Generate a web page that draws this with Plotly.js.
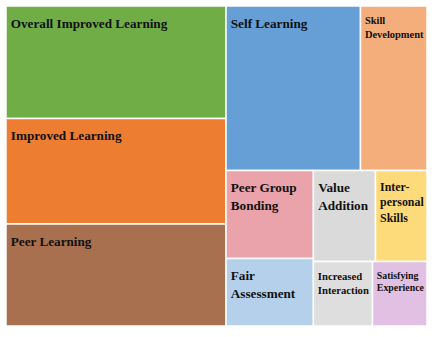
<!DOCTYPE html>
<html>
<head>
<meta charset="utf-8">
<script src="https://cdn.plot.ly/plotly-3.0.1.min.js"></script>
<style>html,body{margin:0;padding:0;background:#fff;}#chart{width:446px;height:337px;}</style>
</head>
<body>
<div id="chart"></div>
<script>
// Share of responses (%) per perceived benefit
const labels = [
  "Overall Improved Learning",
  "Improved Learning",
  "Peer Learning",
  "Self Learning",
  "Skill<br>Development",
  "Peer Group<br>Bonding",
  "Fair<br>Assessment",
  "Value<br>Addition",
  "Inter-<br>personal<br>Skills",
  "Increased<br>Interaction",
  "Satisfying<br>Experience"
];
const values = [18.37, 17.23, 16.66, 16.42, 8.12, 5.71, 4.38, 4.19, 3.48, 2.83, 2.61];
const colors = ["#70AD47", "#ED7D31", "#A9704F", "#659FD6", "#F4AE7C", "#EBA3AB",
                "#B5D0EA", "#DADADA", "#FDDB7A", "#DEDEDE", "#E2C0E3"];

const parents = labels.map(() => "");
// label text with a little top padding (tall hair space at the start of each line)
const shown = labels.map(function (s) {
  return s.split("<br>").map(function (line) {
    return '<span style="font-size:21px">\u200A</span>' + line;
  }).join("<br>");
});

Plotly.newPlot("chart", [{
  type: "treemap",
  labels: labels,
  parents: parents,
  values: values,
  text: shown,
  textinfo: "text",
  textposition: "top left",
  textfont: {family: "Liberation Serif", size: 13.2, weight: "bold", color: "#111111"},
  marker: {colors: colors, line: {color: "#ffffff", width: 1.5}, pad: {t: 0, l: 0, r: 0, b: 0}},
  tiling: {packing: "squarify", squarifyratio: 1.618034, pad: 0},
  pathbar: {visible: false}
}], {
  width: 446,
  height: 337,
  margin: {l: 6, r: 19, t: 6, b: 11, pad: 0}
}, {displayModeBar: false});
</script>
</body>
</html>
